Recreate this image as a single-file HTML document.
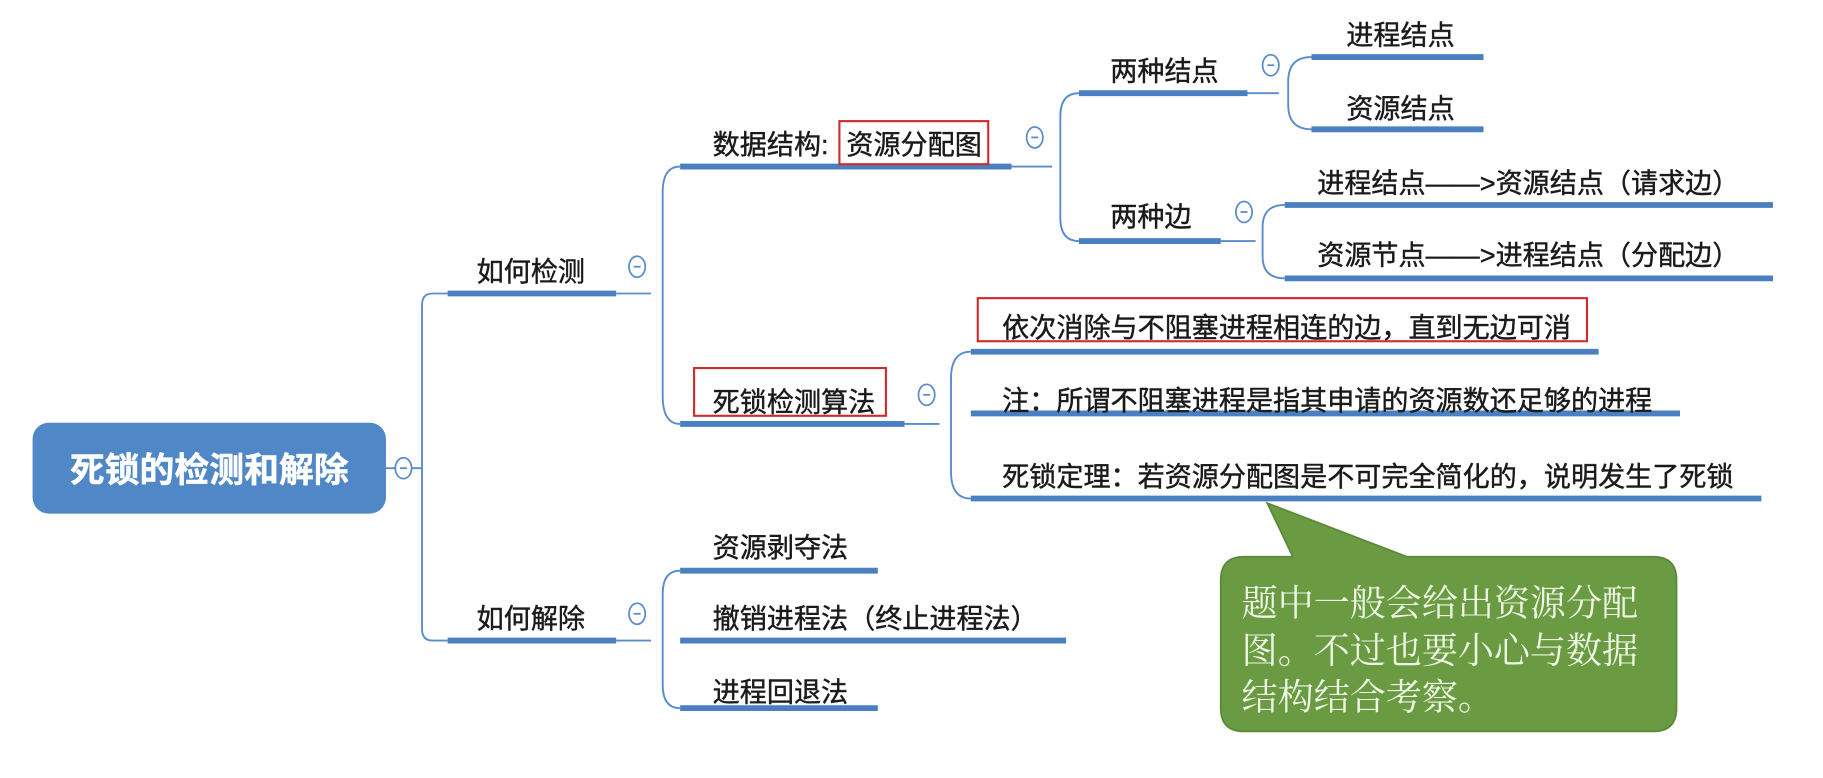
<!DOCTYPE html>
<html><head><meta charset="utf-8"><style>
html,body{margin:0;padding:0;background:#fff;}
svg{display:block;}
text{font-family:"Liberation Sans","Noto Sans CJK SC",sans-serif;font-size:23.3px;fill:#1a1a1a;dominant-baseline:central;stroke:#1a1a1a;stroke-width:0.35px;}
</style></head><body>
<svg width="1823" height="778" viewBox="0 0 1568 668" preserveAspectRatio="none" xmlns="http://www.w3.org/2000/svg">
<rect width="1568" height="668" fill="#fff"/>
<g fill="none" stroke="#5a8bcb" stroke-width="1.6">
<path d="M332 402 H363"/>
<path d="M385 252 H372 Q363 252 363 262 V540 Q363 550 372 550 H385"/>
<path d="M530 252 H560"/>
<path d="M585 143 Q570 143 570 165 V340 Q570 364 585 364"/>
<path d="M870 143 H905"/>
<path d="M928 80 Q912 80 912 100 V187 Q912 207 928 207"/>
<path d="M1073 80 H1100"/>
<path d="M1128 49 Q1108 49 1108 70 V90 Q1108 111 1128 111"/>
<path d="M1050 207 H1080"/>
<path d="M1105 176 Q1086 176 1086 195 V220 Q1086 239 1105 239"/>
<path d="M778 364 H808"/>
<path d="M835 302 Q818 302 818 325 V405 Q818 428 835 428"/>
<path d="M530 550 H560"/>
<path d="M585 490 Q570 490 570 510 V588 Q570 608 585 608"/>
</g>
<g stroke="#4a7fc1" stroke-width="5" stroke-linecap="butt">
<line x1="385" y1="252" x2="530" y2="252"/>
<line x1="385" y1="550" x2="530" y2="550"/>
<line x1="585" y1="143" x2="870" y2="143"/>
<line x1="585" y1="364" x2="778" y2="364"/>
<line x1="928" y1="80" x2="1073" y2="80"/>
<line x1="928" y1="207" x2="1050" y2="207"/>
<line x1="1128" y1="49" x2="1276" y2="49"/>
<line x1="1128" y1="111" x2="1276" y2="111"/>
<line x1="1105" y1="176" x2="1525" y2="176"/>
<line x1="1105" y1="239" x2="1525" y2="239"/>
<line x1="835" y1="302" x2="1375" y2="302"/>
<line x1="835" y1="355" x2="1445" y2="355"/>
<line x1="835" y1="428" x2="1515" y2="428"/>
<line x1="585" y1="490" x2="755" y2="490"/>
<line x1="585" y1="550" x2="917" y2="550"/>
<line x1="585" y1="608" x2="755" y2="608"/>
</g>
<rect x="28" y="363" width="304" height="78" rx="14" fill="#5087c7"/>
<text x="180" y="404" text-anchor="middle" style="fill:#fff;stroke:#fff;stroke-width:0.4px;font-size:30px;font-weight:bold">死锁的检测和解除</text>
<g fill="#fff" stroke="#5a8bcb" stroke-width="1.5">
<ellipse cx="347" cy="402" rx="7" ry="9"/>
<ellipse cx="548" cy="229" rx="7" ry="9"/>
<ellipse cx="548" cy="527" rx="7" ry="9"/>
<ellipse cx="890" cy="118" rx="7" ry="9"/>
<ellipse cx="797" cy="339" rx="7" ry="9"/>
<ellipse cx="1093" cy="56" rx="7" ry="9"/>
<ellipse cx="1070" cy="182" rx="7" ry="9"/>
</g>
<g stroke="#5a8bcb" stroke-width="1.5">
<line x1="344" y1="402" x2="350" y2="402"/><line x1="545" y1="229" x2="551" y2="229"/>
<line x1="545" y1="527" x2="551" y2="527"/><line x1="887" y1="118" x2="893" y2="118"/>
<line x1="794" y1="339" x2="800" y2="339"/><line x1="1090" y1="56" x2="1096" y2="56"/>
<line x1="1067" y1="182" x2="1073" y2="182"/>
</g>
<g fill="none" stroke="#d02a2a" stroke-width="1.8">
<rect x="722" y="104" width="128" height="37"/>
<rect x="597" y="316" width="165" height="41"/>
<rect x="841" y="256" width="524" height="37"/>
</g>
<text x="410" y="233">如何检测</text>
<text x="410" y="531">如何解除</text>
<text x="613" y="124">数据结构:</text>
<text x="728" y="124">资源分配图</text>
<text x="613" y="345">死锁检测算法</text>
<text x="955" y="61">两种结点</text>
<text x="955" y="186">两种边</text>
<text x="1158" y="30">进程结点</text>
<text x="1158" y="93">资源结点</text>
<text x="1133" y="157">进程结点——&gt;资源结点（请求边）</text>
<text x="1133" y="219">资源节点——&gt;进程结点（分配边）</text>
<text x="862" y="281">依次消除与不阻塞进程相连的边，直到无边可消</text>
<text x="862" y="344">注：所谓不阻塞进程是指其申请的资源数还足够的进程</text>
<text x="862" y="409">死锁定理：若资源分配图是不可完全简化的，说明发生了死锁</text>
<text x="613" y="470">资源剥夺法</text>
<text x="613" y="531">撤销进程法（终止进程法）</text>
<text x="613" y="594">进程回退法</text>
<path d="M1070 478 H1112 L1090 432 L1210 478 H1422 Q1442 478 1442 498 V608 Q1442 628 1422 628 H1070 Q1050 628 1050 608 V498 Q1050 478 1070 478 Z" fill="#6a9b43" stroke="#5a8a38" stroke-width="1.5"/>
<text x="1068" y="518" style="fill:#eef6e4;stroke:none;font-family:'Liberation Serif','Noto Serif CJK SC',serif;font-size:31px">题中一般会给出资源分配</text>
<text x="1068" y="559" style="fill:#eef6e4;stroke:none;font-family:'Liberation Serif','Noto Serif CJK SC',serif;font-size:31px">图。不过也要小心与数据</text>
<text x="1068" y="599" style="fill:#eef6e4;stroke:none;font-family:'Liberation Serif','Noto Serif CJK SC',serif;font-size:31px">结构结合考察。</text>
</svg>
</body></html>
